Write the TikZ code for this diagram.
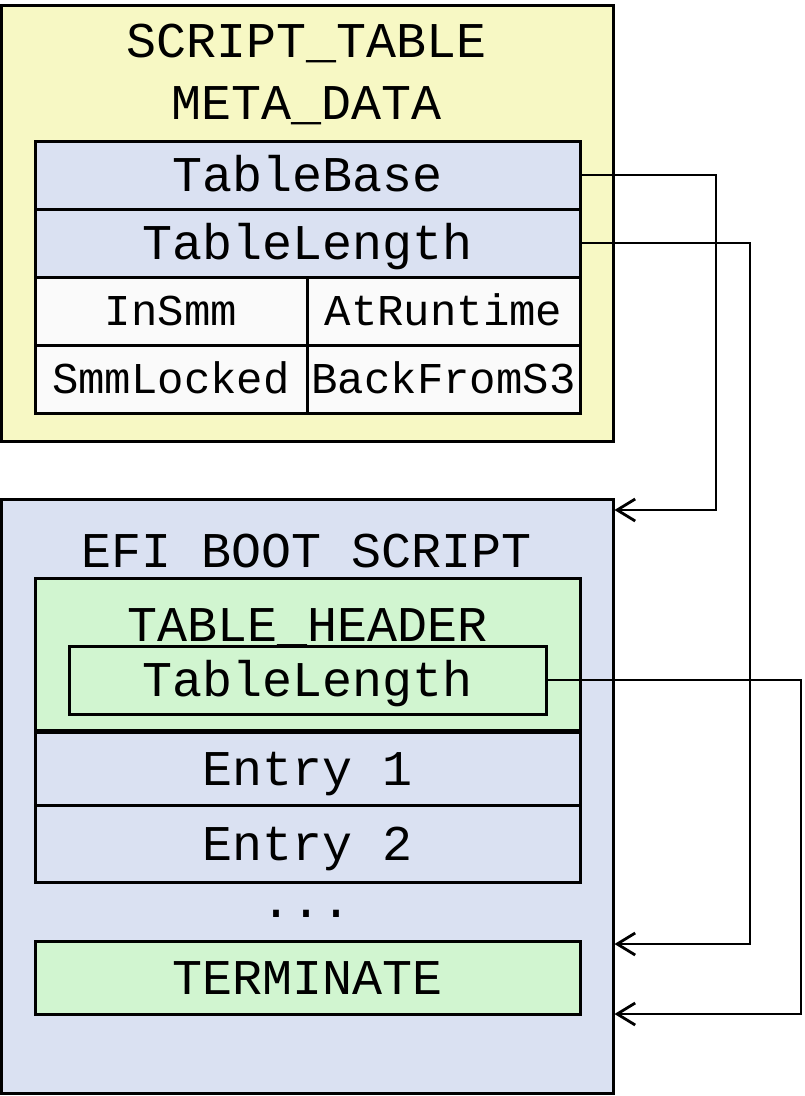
\documentclass[tikz,border=0pt]{standalone}
\usepackage{fontspec}
\newfontfamily\cour{Liberation Mono}
\usetikzlibrary{arrows.meta}
\definecolor{ylw}{HTML}{F7F8C4}
\definecolor{blu}{HTML}{DAE1F2}
\definecolor{grn}{HTML}{D1F5D0}
\definecolor{wht}{HTML}{FAFAFA}
\begin{document}
\begin{tikzpicture}[x=1pt,y=-1pt,
  big/.style={font=\cour\fontsize{50}{50}\selectfont, text height=33pt, text depth=0pt, inner sep=0pt},
  small/.style={font=\cour\fontsize{44}{44}\selectfont, text height=29pt, text depth=0pt, inner sep=0pt},
  box/.style={draw=black, line width=3pt},
  conn/.style={draw=black, line width=2.8pt, -{Straight Barb[length=18pt,width=22pt]}}
]
\useasboundingbox (0,0) rectangle (804,1096);
% top container
\node[box, fill=ylw, minimum width=612pt, minimum height=436pt] (meta) at (307,223) {};
\node[big] (t1) at (307,41) {SCRIPT\_TABLE};
\node[big] (t2) at (307,103) {META\_DATA};
\node[box, big, fill=blu, minimum width=545pt, minimum height=68pt] (tbase) at (307.5,175) {TableBase};
\node[box, big, fill=blu, minimum width=545pt, minimum height=68pt] (tlen) at (307.5,243) {TableLength};
\node[box, small, fill=wht, minimum width=272pt, minimum height=68pt] (insmm) at (171,311) {InSmm};
\node[box, small, fill=wht, minimum width=273pt, minimum height=68pt] (atrun) at (443.5,311) {AtRuntime};
\node[box, small, fill=wht, minimum width=272pt, minimum height=68pt] (smml) at (171,379) {SmmLocked};
\node[box, small, fill=wht, minimum width=273pt, minimum height=68pt] (back) at (443.5,379) {BackFromS3};
% bottom container
\node[box, fill=blu, minimum width=612pt, minimum height=594pt] (efi) at (307,796) {};
\node[big] (t3) at (307,551) {EFI BOOT SCRIPT};
\node[box, fill=grn, minimum width=545pt, minimum height=152pt] (hdr) at (307.5,654) {};
\node[big] (t4) at (307.5,625) {TABLE\_HEADER};
\node[box, big, fill=grn, minimum width=477pt, minimum height=68pt] (hlen) at (307.5,680) {TableLength};
\node[box, big, fill=blu, minimum width=545pt, minimum height=73pt] (e1) at (307.5,768.5) {Entry 1};
\node[box, big, fill=blu, minimum width=545pt, minimum height=77pt] (e2) at (307.5,843.5) {Entry 2};
\node[big] (dots) at (307,901) {...};
\node[box, big, fill=grn, minimum width=545pt, minimum height=73pt] (term) at (307.5,977.5) {TERMINATE};
% connectors
\coordinate (k1) at (716,510);
\coordinate (k2) at (750,944);
\coordinate (k3) at (801,1014);
\draw[conn] (tbase.east) -| (k1) -- (k1 -| efi.east);
\draw[conn] (tlen.east) -| (k2) -- (k2 -| efi.east);
\draw[conn] (hlen.east) -| (k3) -- (k3 -| efi.east);
\end{tikzpicture}
\end{document}
